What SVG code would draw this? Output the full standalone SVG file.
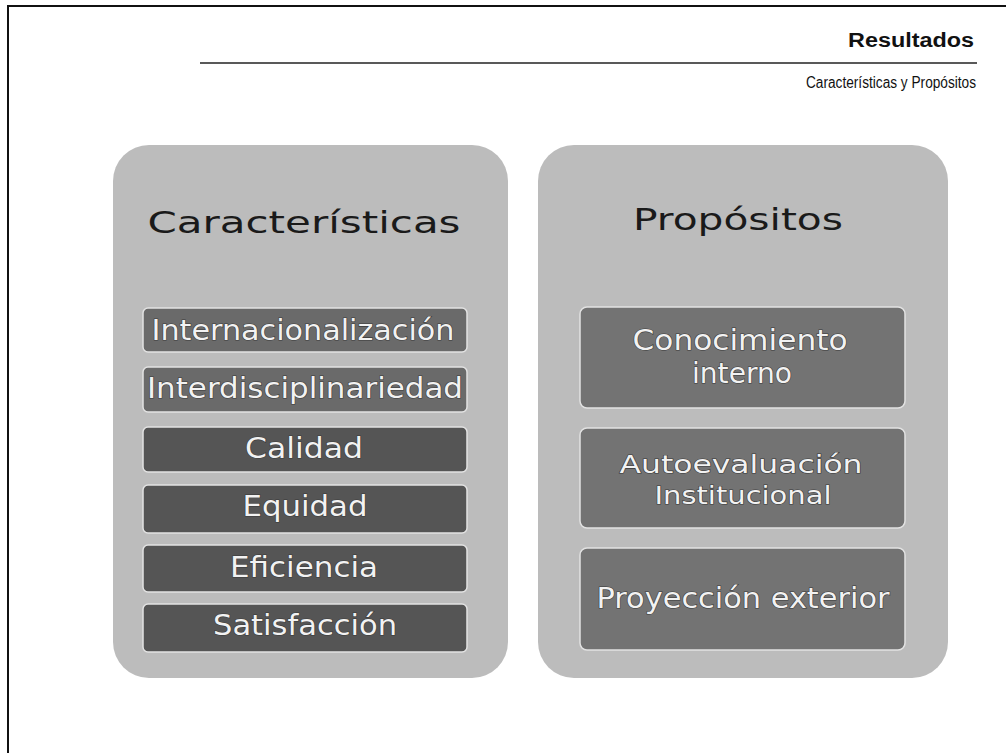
<svg xmlns="http://www.w3.org/2000/svg" width="1006" height="753" viewBox="0 0 1006 753">
<style>
.frame{stroke:#111;stroke-width:2;fill:none}
.panel{fill:#bcbcbc}
.title{font-family:"DejaVu Sans","Liberation Sans",sans-serif;font-size:31px;fill:#1a1a1a;text-anchor:middle}
.hdr{font-family:"Liberation Sans","DejaVu Sans",sans-serif;fill:#111;text-anchor:end}
.boxA{fill:#6a6a6a;stroke:#e2e2e2;stroke-width:1.5}
.boxB{fill:#555555;stroke:#e2e2e2;stroke-width:1.5}
.boxC{fill:#737373;stroke:#e2e2e2;stroke-width:1.5}
.lbl{font-family:"DejaVu Sans","Liberation Sans",sans-serif;font-size:29px;fill:#f2f2f2;stroke:#3a3a3a;stroke-width:1.2;paint-order:stroke;text-anchor:middle}
.lbl2{font-size:25px}
</style>
<rect width="1006" height="753" fill="#ffffff"/>
<g id="frame">
<path class="frame" d="M8,753 L8,6 L1006,6"/>
</g>
<g id="header">
<text class="hdr" x="974" y="47" font-size="20" font-weight="bold" textLength="126" lengthAdjust="spacingAndGlyphs">Resultados</text>
<line x1="200" y1="63" x2="977" y2="63" stroke="#222" stroke-width="1.5"/>
<text class="hdr" x="976" y="88" font-size="16" textLength="170" lengthAdjust="spacingAndGlyphs">Características y Propósitos</text>
</g>
<g id="panel-caracteristicas">
<rect class="panel" x="113" y="145" width="395" height="533" rx="36"/>
<text class="title" x="304" y="233" textLength="313" lengthAdjust="spacingAndGlyphs">Características</text>
</g>
<g id="panel-propositos">
<rect class="panel" x="538" y="145" width="410" height="533" rx="36"/>
<text class="title" x="738" y="230" textLength="210" lengthAdjust="spacingAndGlyphs">Propósitos</text>
</g>
<g id="n-internacionalizacion">
<rect class="boxA" x="143" y="308" width="324" height="44" rx="5"/>
<text class="lbl" x="303" y="340" textLength="303" lengthAdjust="spacingAndGlyphs">Internacionalización</text>
</g>
<g id="n-interdisciplinariedad">
<rect class="boxA" x="143" y="367" width="324" height="45" rx="5"/>
<text class="lbl" x="305" y="398" textLength="316" lengthAdjust="spacingAndGlyphs">Interdisciplinariedad</text>
</g>
<g id="n-calidad">
<rect class="boxB" x="143" y="427" width="324" height="45" rx="5"/>
<text class="lbl" x="304" y="458" textLength="118" lengthAdjust="spacingAndGlyphs">Calidad</text>
</g>
<g id="n-equidad">
<rect class="boxB" x="143" y="485" width="324" height="48" rx="5"/>
<text class="lbl" x="305" y="516" textLength="125" lengthAdjust="spacingAndGlyphs">Equidad</text>
</g>
<g id="n-eficiencia">
<rect class="boxB" x="143" y="545" width="324" height="47" rx="5"/>
<text class="lbl" x="304" y="577" textLength="148" lengthAdjust="spacingAndGlyphs">Eficiencia</text>
</g>
<g id="n-satisfaccion">
<rect class="boxB" x="143" y="604" width="324" height="48" rx="5"/>
<text class="lbl" x="305" y="635" textLength="184" lengthAdjust="spacingAndGlyphs">Satisfacción</text>
</g>
<g id="n-conocimiento">
<rect class="boxC" x="580" y="307" width="325" height="101" rx="7"/>
<text class="lbl" x="740" y="350" textLength="215" lengthAdjust="spacingAndGlyphs">Conocimiento</text>
<text class="lbl" x="742" y="383" textLength="100" lengthAdjust="spacingAndGlyphs">interno</text>
</g>
<g id="n-autoevaluacion">
<rect class="boxC" x="580" y="428" width="325" height="100" rx="7"/>
<text class="lbl lbl2" x="741" y="473" textLength="243" lengthAdjust="spacingAndGlyphs">Autoevaluación</text>
<text class="lbl lbl2" x="743" y="504" textLength="177" lengthAdjust="spacingAndGlyphs">Institucional</text>
</g>
<g id="n-proyeccion">
<rect class="boxC" x="580" y="548" width="325" height="102" rx="7"/>
<text class="lbl" x="743" y="608" textLength="293" lengthAdjust="spacingAndGlyphs">Proyección exterior</text>
</g>
<g id="connectors"></g>
</svg>
